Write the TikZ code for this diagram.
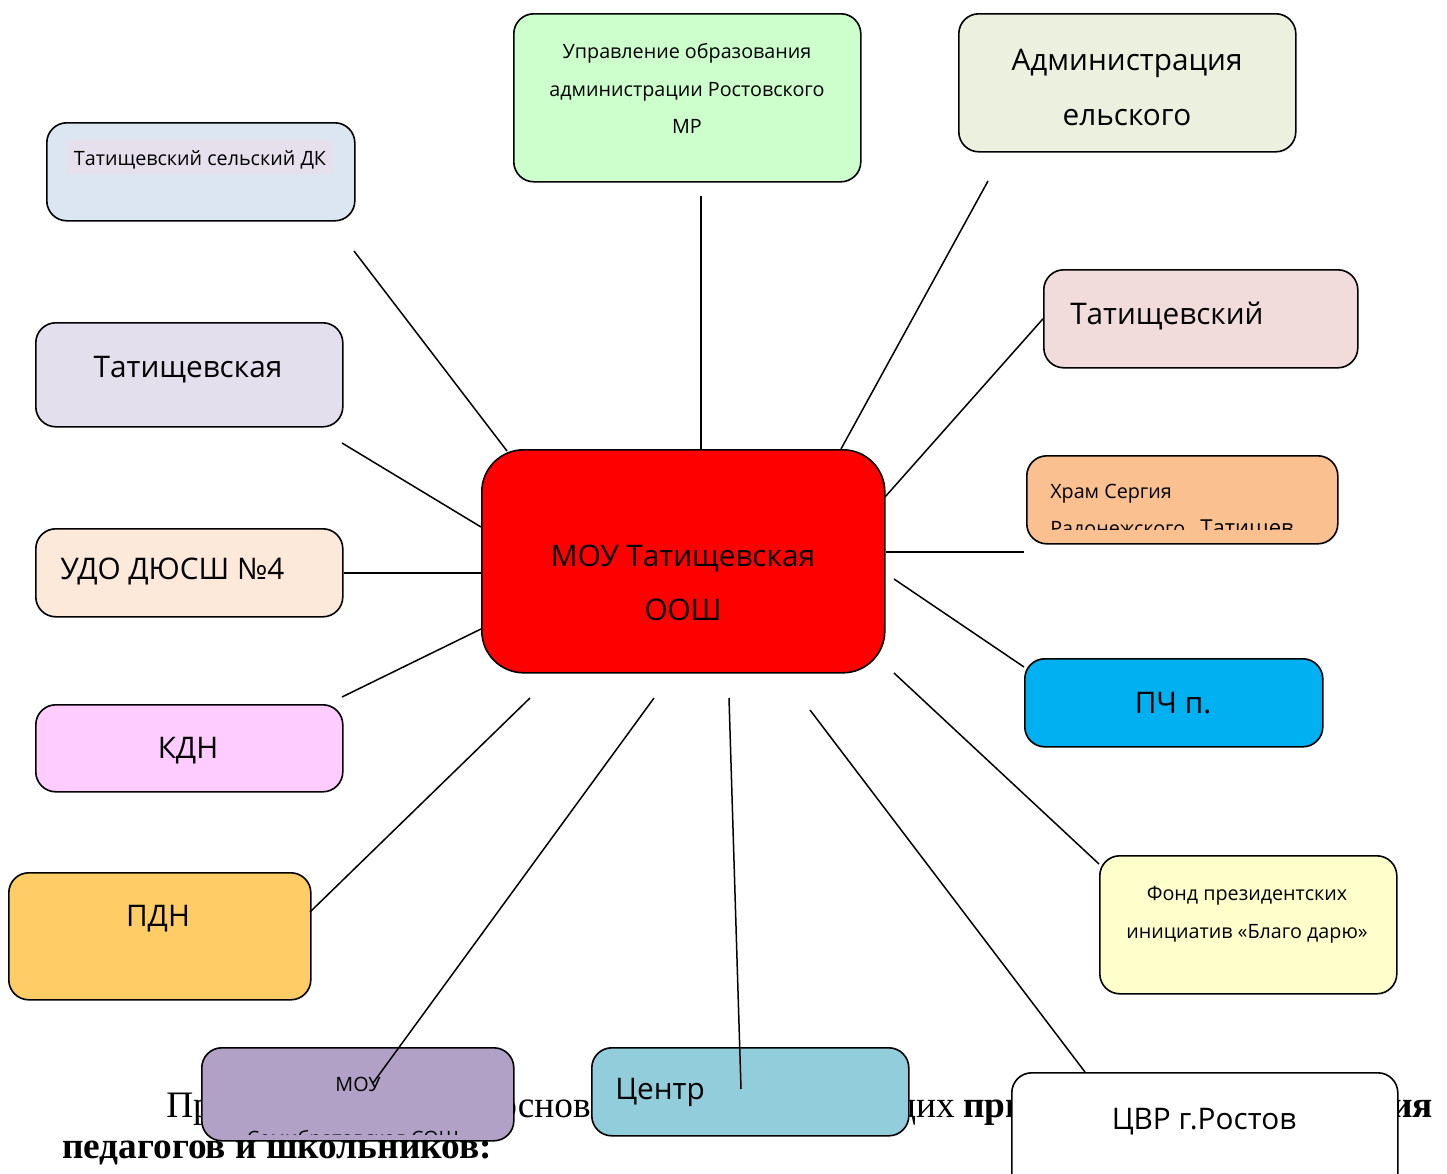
\documentclass[tikz,border=0pt]{standalone}
\usepackage{fontspec}
\setmainfont{Liberation Serif}
\newfontfamily\boxfont{Open Sans}
\usetikzlibrary{positioning}

\newlength{\du}
\setlength{\du}{0.75pt}

\definecolor{uprfill}{RGB}{204,255,204}
\definecolor{admfill}{RGB}{235,241,222}
\definecolor{dkfill}{RGB}{220,230,242}
\definecolor{dkmark}{RGB}{230,224,236}
\definecolor{tatrfill}{RGB}{242,220,219}
\definecolor{tatlfill}{RGB}{228,223,236}
\definecolor{hramfill}{RGB}{250,192,144}
\definecolor{udofill}{RGB}{253,233,217}
\definecolor{pchfill}{RGB}{0,176,240}
\definecolor{kdnfill}{RGB}{255,204,255}
\definecolor{pdnfill}{RGB}{255,204,102}
\definecolor{fondfill}{RGB}{255,255,204}
\definecolor{soshfill}{RGB}{178,161,199}
\definecolor{centrfill}{RGB}{146,205,220}

\tikzset{
  orgbox/.style={draw=black, line width=1.6\du, rounded corners=20\du, inner sep=0pt, anchor=north west},
  bigtext/.style={font={\boxfont\fontsize{22.3}{26}\selectfont}, inner sep=0pt, anchor=mid},
  smalltext/.style={font={\boxfont\fontsize{14.8}{18}\selectfont}, inner sep=0pt, anchor=mid},
  serifline/.style={font={\fontsize{28}{32}\selectfont}, inner sep=0pt, anchor=base west},
  link/.style={draw=black, line width=1.5\du},
}

\begin{document}
\begin{tikzpicture}
\pgftransformxscale{1.000000}
\pgftransformyscale{-1.000000}
\useasboundingbox (0\du,0\du) rectangle (1447\du,1174\du);
% page text under the boxes
\node[serifline] (par-a) at (166\du,1117\du){Пр};
\node[serifline, anchor=base east] (par-b) at (591\du,1117\du){основ};
\node[serifline, anchor=base east] (par-c) at (955\du,1117\du){щих};
\node[serifline] (par-d) at (963\du,1117\du){\bfseries при};
\node[serifline, anchor=base east] (par-e) at (1433\du,1117\du){\bfseries ия};
\node[serifline] (par-f) at (62\du,1158\du){\bfseries педагогов и школьников:};
% boxes
\node[orgbox, fill=uprfill, minimum width=347\du, minimum height=168\du] (upr) at (513\du,13\du){};
\node[orgbox, fill=admfill, minimum width=337\du, minimum height=138\du] (adm) at (958\du,13\du){};
\node[orgbox, fill=dkfill, minimum width=308\du, minimum height=98\du] (dk) at (46\du,122\du){};
\node[orgbox, fill=tatrfill, minimum width=314\du, minimum height=98\du] (tatr) at (1043\du,269\du){};
\node[orgbox, fill=tatlfill, minimum width=307\du, minimum height=104\du] (tatl) at (35\du,322\du){};
\node[orgbox, fill=hramfill, minimum width=311\du, minimum height=88\du] (hram) at (1026\du,455\du){};
\node[orgbox, fill=red, rounded corners=42\du, minimum width=403\du, minimum height=223\du] (moou) at (481\du,449\du){};
\node[orgbox, fill=udofill, minimum width=307\du, minimum height=88\du] (udo) at (35\du,528\du){};
\node[orgbox, fill=pchfill, minimum width=298\du, minimum height=88\du] (pch) at (1024\du,658\du){};
\node[orgbox, fill=kdnfill, minimum width=307\du, minimum height=87\du] (kdn) at (35\du,704\du){};
\node[orgbox, fill=pdnfill, minimum width=302\du, minimum height=127\du] (pdn) at (8\du,872\du){};
\node[orgbox, fill=fondfill, minimum width=297\du, minimum height=138\du] (fond) at (1099\du,855\du){};
\node[orgbox, fill=soshfill, minimum width=312\du, minimum height=93\du] (sosh) at (201\du,1047\du){};
\node[orgbox, fill=centrfill, minimum width=317\du, minimum height=88\du] (centr) at (591\du,1047\du){};
\node[orgbox, fill=white, minimum width=386\du, minimum height=130\du] (cvr) at (1011\du,1072\du){};
% box texts
\node[smalltext] (upr-1) at (687\du,55\du){Управление образования};
\node[smalltext] (upr-2) at (687\du,93\du){администрации Ростовского};
\node[smalltext] (upr-3) at (687\du,130\du){МР};
\node[bigtext] (adm-1) at (1127\du,67\du){Администрация};
\node[bigtext] (adm-2) at (1127\du,122\du){ельского};
\fill[dkmark] (67\du,140\du) rectangle (333\du,174\du);
\node[smalltext] (dk-1) at (200\du,162\du){Татищевский сельский ДК};
\node[bigtext, anchor=mid west] (tatr-1) at (1070\du,321\du){Татищевский};
\node[bigtext] (tatl-1) at (188\du,374\du){Татищевская};
\node[smalltext, anchor=mid west] (hram-1) at (1050\du,495\du){Храм Сергия};
\begin{scope}
\clip (1028\du,457\du) rectangle (1335\du,529\du);
\node[smalltext, anchor=base west] (hram-2) at (1050\du,535\du){Радонежского , {\fontsize{16.5}{19}\selectfont Татищев}};
\end{scope}
\node[bigtext] (moou-1) at (683\du,563\du){МОУ Татищевская};
\node[bigtext] (moou-2) at (683\du,617\du){ООШ};
\node[bigtext, anchor=mid west] (udo-1) at (60\du,576\du){УДО ДЮСШ №4};
\node[bigtext] (pch-1) at (1173\du,710\du){ПЧ п.};
\node[bigtext] (kdn-1) at (188\du,755\du){КДН};
\node[bigtext] (pdn-1) at (158\du,923\du){ПДН};
\node[smalltext] (fond-1) at (1247\du,897\du){Фонд президентских};
\node[smalltext] (fond-2) at (1247\du,935\du){инициатив «Благо дарю»};
\node[smalltext] (sosh-1) at (358\du,1088\du){МОУ};
\begin{scope}
\clip (203\du,1049\du) rectangle (511\du,1134\du);
\node[smalltext, anchor=base] (sosh-2) at (353\du,1145\du){Семибратовская СОШ};
\end{scope}
\node[bigtext, anchor=mid west] (centr-1) at (615\du,1096\du){Центр};
\node[bigtext] (cvr-1) at (1204\du,1126\du){ЦВР г.Ростов};
% link ends
\coordinate (dk-end) at (354\du,251\du);
\coordinate (dk-c) at (507\du,451\du);
\coordinate (upr-end) at (701\du,196\du);
\coordinate (adm-end) at (988\du,181\du);
\coordinate (adm-c) at (841\du,449\du);
\coordinate (tatr-c) at (885\du,497\du);
\coordinate (tatl-end) at (342\du,443\du);
\coordinate (tatl-c) at (481\du,527\du);
\coordinate (hram-end) at (1024\du,552\du);
\coordinate (pch-c) at (894\du,579\du);
\coordinate (pch-end) at (1024\du,667\du);
\coordinate (kdn-end) at (342\du,697\du);
\coordinate (kdn-c) at (481\du,629\du);
\coordinate (pdn-c) at (530\du,698\du);
\coordinate (pdn-end) at (310\du,912\du);
\coordinate (sosh-c) at (654\du,698\du);
\coordinate (sosh-end) at (373\du,1083\du);
\coordinate (centr-c) at (729\du,698\du);
\coordinate (centr-end) at (741\du,1089\du);
\coordinate (cvr-c) at (810\du,710\du);
\coordinate (cvr-end) at (1085\du,1072\du);
\coordinate (fond-c) at (894\du,673\du);
\coordinate (fond-end) at (1099\du,864\du);
% links
\draw[link] (dk-end) -- (dk-c);
\draw[link] (upr-end) -- (moou.north -| upr-end);
\draw[link] (adm-end) -- (adm-c);
\draw[link] (tatr.west) -- (tatr-c);
\draw[link] (tatl-end) -- (tatl-c);
\draw[link] (hram-end) -- (moou.east |- hram-end);
\draw[link] (udo.east) -- (moou.west |- udo.east);
\draw[link] (pch-c) -- (pch-end);
\draw[link] (kdn-end) -- (kdn-c);
\draw[link] (pdn-c) -- (pdn-end);
\draw[link] (sosh-c) -- (sosh-end);
\draw[link] (centr-c) -- (centr-end);
\draw[link] (cvr-c) -- (cvr-end);
\draw[link] (fond-c) -- (fond-end);
\end{tikzpicture}
\end{document}
